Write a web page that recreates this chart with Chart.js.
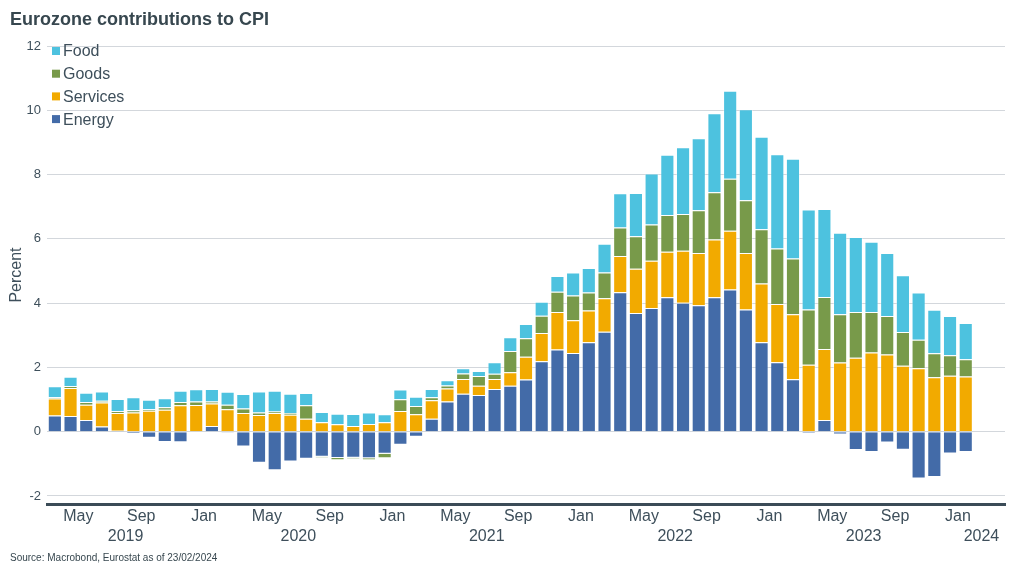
<!DOCTYPE html>
<html>
<head>
<meta charset="utf-8">
<script src="https://cdn.jsdelivr.net/npm/chart.js@4/dist/chart.umd.min.js"></script>
<style>
  body { margin: 0; background: #fff; }
  #wrap { position: relative; width: 1024px; height: 576px; font-family: "Liberation Sans", Arial, sans-serif; }
  #grafica { position: absolute; left: 0; top: 0; }
  #titulo { position: absolute; left: 10px; top: 10px; font-size: 18px; line-height: 18px; font-weight: bold; color: #37474f; }
  #fuente { position: absolute; left: 10px; top: 553px; font-size: 10px; line-height: 10px; color: #37474f; }
</style>
</head>
<body>
<div id="wrap">
  <canvas id="grafica" width="1024" height="576"></canvas>
  <div id="titulo">Eurozone contributions to CPI</div>
  <div id="fuente">Source: Macrobond, Eurostat as of 23/02/2024</div>
</div>
<script>
// Meses: de 2019-03 a 2024-01 con datos, 2024-02 y 2024-03 vacíos al final del eje
const months = [
  "2019-03", "2019-04", "2019-05", "2019-06", "2019-07", "2019-08", "2019-09", "2019-10", "2019-11", "2019-12",
  "2020-01", "2020-02", "2020-03", "2020-04", "2020-05", "2020-06", "2020-07", "2020-08", "2020-09", "2020-10", "2020-11", "2020-12",
  "2021-01", "2021-02", "2021-03", "2021-04", "2021-05", "2021-06", "2021-07", "2021-08", "2021-09", "2021-10", "2021-11", "2021-12",
  "2022-01", "2022-02", "2022-03", "2022-04", "2022-05", "2022-06", "2022-07", "2022-08", "2022-09", "2022-10", "2022-11", "2022-12",
  "2023-01", "2023-02", "2023-03", "2023-04", "2023-05", "2023-06", "2023-07", "2023-08", "2023-09", "2023-10", "2023-11", "2023-12",
  "2024-01", "2024-02", "2024-03",
];

const energy = [
  0.50, 0.49, 0.36, 0.16, 0.03, -0.06, -0.19, -0.32, -0.33, 0.01,
  0.18, -0.03, -0.46, -0.97, -1.20, -0.93, -0.84, -0.78, -0.82, -0.81, -0.83, -0.69,
  -0.41, -0.16, 0.40, 0.94, 1.18, 1.14, 1.33, 1.43, 1.62, 2.19, 2.56, 2.45,
  2.78, 3.11, 4.34, 3.69, 3.85, 4.18, 4.01, 3.93, 4.18, 4.42, 3.80, 2.78,
  2.16, 1.63, -0.05, 0.36, -0.09, -0.57, -0.63, -0.34, -0.56, -1.46, -1.41, -0.68,
  -0.63,
];
const services = [
  0.53, 0.87, 0.48, 0.75, 0.55, 0.60, 0.65, 0.68, 0.82, 0.82,
  0.70, 0.70, 0.58, 0.52, 0.58, 0.53, 0.40, 0.29, 0.23, 0.18, 0.24, 0.29,
  0.64, 0.54, 0.58, 0.40, 0.46, 0.29, 0.31, 0.42, 0.71, 0.88, 1.16, 1.02,
  0.99, 1.04, 1.13, 1.38, 1.47, 1.42, 1.62, 1.63, 1.80, 1.83, 1.76, 1.83,
  1.81, 2.02, 2.08, 2.21, 2.15, 2.30, 2.46, 2.40, 2.05, 1.97, 1.69, 1.74,
  1.72,
];
const goods = [
  0.04, 0.06, 0.08, 0.05, 0.06, 0.07, 0.05, 0.08, 0.10, 0.11,
  0.06, 0.14, 0.14, 0.08, 0.05, 0.05, 0.42, -0.03, -0.07, -0.04, -0.06, -0.14,
  0.37, 0.26, 0.09, 0.10, 0.17, 0.30, 0.16, 0.66, 0.58, 0.54, 0.63, 0.77,
  0.56, 0.80, 0.88, 1.01, 1.13, 1.14, 1.14, 1.33, 1.47, 1.62, 1.64, 1.69,
  1.73, 1.74, 1.72, 1.62, 1.50, 1.42, 1.26, 1.20, 1.05, 0.89, 0.75, 0.64,
  0.53,
];
const food = [
  0.34, 0.29, 0.29, 0.29, 0.38, 0.40, 0.29, 0.28, 0.35, 0.38,
  0.39, 0.40, 0.45, 0.65, 0.64, 0.60, 0.38, 0.32, 0.33, 0.37, 0.36, 0.25,
  0.30, 0.29, 0.26, 0.16, 0.16, 0.16, 0.36, 0.43, 0.44, 0.43, 0.49, 0.71,
  0.76, 0.90, 1.07, 1.35, 1.58, 1.88, 2.08, 2.24, 2.46, 2.74, 2.83, 2.88,
  2.93, 3.10, 3.11, 2.74, 2.54, 2.34, 2.19, 1.96, 1.77, 1.47, 1.35, 1.22,
  1.13,
];

const yTicks = [-2, 0, 2, 4, 6, 8, 10, 12];
const monthNames = { "01": "Jan", "05": "May", "09": "Sep" };

const TEXT = "#3e4f5b";
const FONT = '"Liberation Sans", Arial, sans-serif';

const series = [
  { label: "Energy", data: energy, color: "#436ba8" },
  { label: "Services", data: services, color: "#f2aa00" },
  { label: "Goods", data: goods, color: "#789a4a" },
  { label: "Food", data: food, color: "#4dc2df" },
];

// Leyenda dentro del área, arriba a la izquierda (orden inverso al apilado)
const legendPlugin = {
  id: "leyenda",
  afterDraw(chart) {
    const ctx = chart.ctx;
    ctx.save();
    ctx.font = `16px ${FONT}`;
    ctx.textBaseline = "middle";
    ctx.fillStyle = TEXT;
    const items = chart.data.datasets.slice().reverse();
    items.forEach((ds, k) => {
      const y = 51 + k * 22.7;
      ctx.fillStyle = ds.backgroundColor;
      ctx.fillRect(52, y - 4, 8, 8);
      ctx.fillStyle = TEXT;
      ctx.fillText(ds.label, 63, y + 1);
    });
    ctx.restore();
  },
};

// Etiquetas de meses en el inicio de cada mes y años centrados en su tramo
const xLabelsPlugin = {
  id: "etiquetasX",
  afterDraw(chart) {
    const xs = chart.scales.x;
    const ctx = chart.ctx;
    const half = (xs.getPixelForValue(1) - xs.getPixelForValue(0)) / 2;
    ctx.save();
    ctx.font = `16px ${FONT}`;
    ctx.fillStyle = TEXT;
    ctx.textAlign = "center";
    ctx.textBaseline = "middle";
    months.forEach((m, i) => {
      const name = monthNames[m.slice(5)];
      if (name) ctx.fillText(name, xs.getPixelForValue(i) - half, 517);
    });
    const years = [...new Set(months.map((m) => m.slice(0, 4)))];
    years.forEach((yr) => {
      const first = months.findIndex((m) => m.startsWith(yr));
      const last = months.length - 1 - [...months].reverse().findIndex((m) => m.startsWith(yr));
      const left = Math.max(chart.chartArea.left, xs.getPixelForValue(first) - half);
      const right = Math.min(chart.chartArea.right, xs.getPixelForValue(last) + half);
      ctx.fillText(yr, (left + right) / 2, 537);
    });
    ctx.restore();
  },
};

new Chart(document.getElementById("grafica"), {
  type: "bar",
  data: {
    labels: months,
    datasets: series.map((s) => ({
      label: s.label,
      data: s.data,
      backgroundColor: s.color,
      borderColor: "rgba(255,255,255,0.35)",
      borderWidth: 1,
      barPercentage: 0.9,
      categoryPercentage: 1,
    })),
  },
  options: {
    responsive: false,
    animation: false,
    layout: { padding: { top: 46, right: 19, left: 0, bottom: 0 } },
    plugins: { legend: { display: false }, tooltip: { enabled: false } },
    scales: {
      x: {
        stacked: true,
        grid: { display: false },
        ticks: { display: false },
        border: { display: true, color: "#3b4b57", width: 3 },
        afterFit(scale) { scale.height = 72; },
      },
      y: {
        stacked: true,
        min: -2.25,
        max: 12,
        afterBuildTicks(scale) { scale.ticks = yTicks.map((v) => ({ value: v })); },
        afterFit(scale) { scale.width = 47; },
        grid: { color: "#d3d7dc", lineWidth: 1, drawTicks: false },
        border: { display: false },
        ticks: { color: TEXT, font: { family: FONT, size: 13 }, padding: 6 },
        title: { display: true, text: "Percent", color: TEXT, font: { family: FONT, size: 16 }, padding: { top: 7, bottom: 0 } },
      },
    },
  },
  plugins: [legendPlugin, xLabelsPlugin],
});
</script>
</body>
</html>
